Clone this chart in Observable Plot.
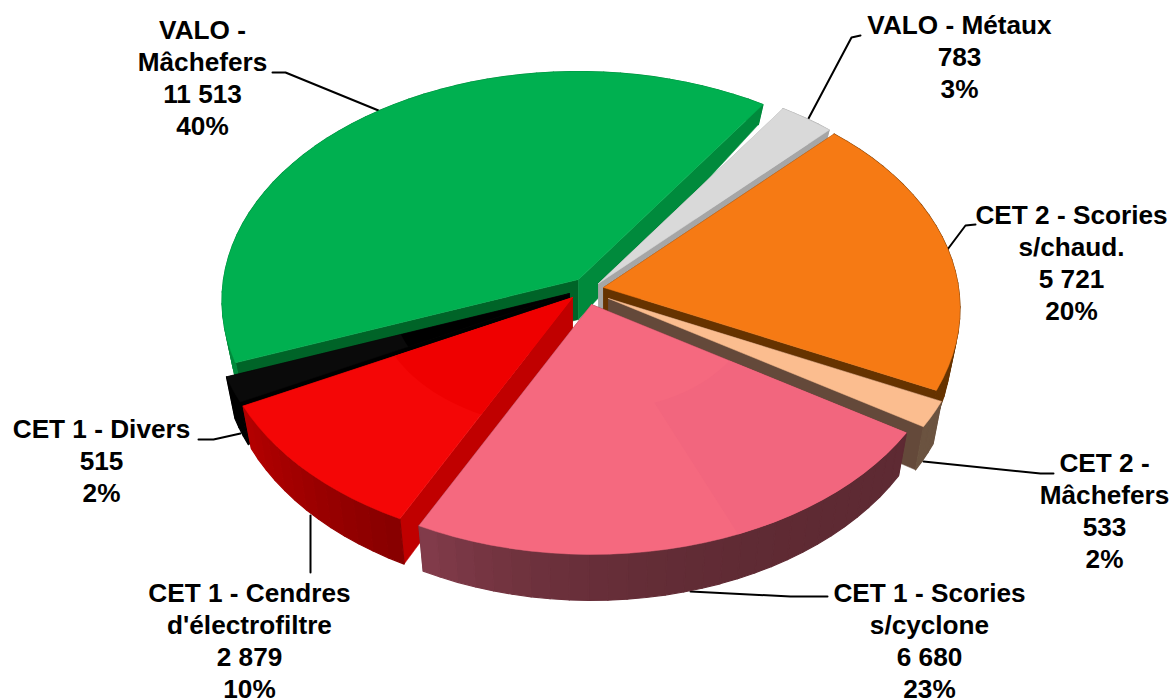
<!DOCTYPE html>
<html><head><meta charset="utf-8">
<script src="https://cdn.jsdelivr.net/npm/d3@7"></script>
<script src="https://cdn.jsdelivr.net/npm/@observablehq/plot@0.6"></script>
<style>html,body{margin:0;padding:0;background:#fff;overflow:hidden}svg{display:block}</style>
</head><body><div id="chart"></div>
<script>
// Data, clockwise from the lower left of the pie
const names = [["VALO -","Mâchefers"],["VALO - Métaux"],["CET 2 - Scories","s/chaud."],["CET 2 -","Mâchefers"],["CET 1 - Scories","s/cyclone"],["CET 1 - Cendres","d'électrofiltre"],["CET 1 - Divers"]];
const values = [11513, 783, 5721, 533, 6680, 2879, 515];
const topColors = ["#00b050","#d9d9d9","#f67a14","#fbbd8f","#f5697f","#f40606","#0a0a0a"];
const rimLeft = ["#008a3c","#a6a6a6","#663300","#6b5340","#833c4b","#b40000","#000000"];
const rimRight = ["#008a3c","#a6a6a6","#663300","#6b5340","#5e2a33","#860000","#000000"];
const rimEase = [1,1,1,1,3.5,1,1];
const startWall = ["#006428","#a6a6a6","#663300","#64493a","#5e2a33","#c00000","#000000"];
const endWall = ["#008a3c","#a6a6a6","#663300","#64493a","#5e2a33","#c00000","#000000"];
// Exploded position of each slice's apex
const apexX = [578,598,603,608,591,572,569];
const apexY = [279,283,287,298,304,297,293];
// Faint facets on the top faces: slice, angle fractions, radius fractions, colour
const facets = [
  {i:5, f0:0, f1:1, r0:0, r1:0.55, color:"#ef0000"},
  {i:4, f0:0, f1:0.42, r0:0.45, r1:1, color:"#f2667e"},
  {i:6, f0:0, f1:1, r0:0, r1:0.5, color:"#000000"}
];
// Label centres and leader lines
const labelX = [202,959,1071,1104,929,249,101];
const labelY = [30,25,215,463,593,593,429];
const leaders = [
  [[272,72],[285,72],[378,110]],
  [[860,35],[851,37],[808,118]],
  [[975,224],[965,225],[947,249]],
  [[1053,473],[1040,473],[923,461]],
  [[827,596],[790,596],[690,591]],
  [[310,572],[310,515]],
  [[198,439],[213,439],[240,433]]
];
// Projection of the tilted disc
const rx = 355, ry = 227, persp = 0.0917, startDeg = -110.8;
const bottomScaleX = 0.975;
const depth = d3.scaleLinear([-175,0,250],[20,40,46]).clamp(true);
const rad = d => d * Math.PI / 180;
const total = d3.sum(values);
const num = d3.formatLocale({thousands:"\u00a0",grouping:[3],decimal:","}).format(",d");
const pct = d3.format(".0%");
const arcs = d3.pie().sort(null).value(d => d).startAngle(rad(startDeg)).endAngle(rad(startDeg + 360))(values);

function proj(a, r = 1) {
  const s = 1 / (1 + persp * r * Math.cos(a));
  return [rx * r * Math.sin(a) * s, -ry * r * Math.cos(a) * s];
}
function P(i, a, r = 1) { const [X, Y] = proj(a, r); return {x: apexX[i] + X, y: apexY[i] + Y}; }
function B(i, a) { const [X, Y] = proj(a); return {x: apexX[i] + X * bottomScaleX, y: apexY[i] + Y + depth(Y)}; }
const apexT = i => ({x: apexX[i], y: apexY[i]});
const apexB = i => ({x: apexX[i], y: apexY[i] + depth(0)});
const poly = (pts, color, sw = 0.5) => Plot.line([...pts, pts[0]], {x: "x", y: "y", fill: color, stroke: color, strokeWidth: sw, curve: "linear"});
const sweep = (a0, a1) => { const n = Math.max(2, Math.ceil((a1 - a0) / rad(3))); return d3.range(n + 1).map(k => a0 + (a1 - a0) * k / n); };

// Draw far slices first, near slices last
const order = [0,1,2,3,6,5,4];
const ordered = order.flatMap(i => {
  const {startAngle: a0, endAngle: a1} = arcs[i];
  const angles = sweep(a0, a1);
  const n = angles.length - 1;
  const mix = d3.interpolateRgb(rimRight[i], rimLeft[i]);
  const out = [
    poly([apexT(i), P(i, a0), B(i, a0), apexB(i)], startWall[i]),
    poly([apexT(i), P(i, a1), B(i, a1), apexB(i)], endWall[i])
  ];
  for (let k = 0; k < n; k++) out.push(poly([P(i, angles[k]), P(i, angles[k+1]), B(i, angles[k+1]), B(i, angles[k])], mix(Math.pow((k + .5) / n, rimEase[i])), 1.2));
  out.push(poly([apexT(i), ...angles.map(a => P(i, a))], topColors[i]));
  for (const f of facets.filter(f => f.i === i)) {
    const b0 = a0 + (a1 - a0) * f.f0, b1 = a0 + (a1 - a0) * f.f1;
    const arc = sweep(b0, b1);
    const outer = arc.map(a => P(i, a, f.r1));
    const inner = f.r0 === 0 ? [apexT(i)] : arc.slice().reverse().map(a => P(i, a, f.r0));
    out.push(Plot.line([...outer, ...inner, outer[0]], {x: "x", y: "y", fill: f.color, curve: "linear", strokeWidth: 0}));
  }
  return out;
});

const labels = names.map((n, i) => ({
  x: labelX[i], y: labelY[i],
  text: [...n, num(values[i]), pct(values[i] / total)].join("\n")
}));
const leaderRows = leaders.flatMap((l, id) => l.map(([x, y]) => ({id, x, y})));

const chart = Plot.plot({
  width: 1172, height: 699, margin: 0,
  x: {domain: [0, 1172], axis: null},
  y: {domain: [699, 0], axis: null},
  marks: [
    Plot.line(leaderRows, {x: "x", y: "y", z: "id", stroke: "#000", strokeWidth: 2, curve: "linear"}),
    ...ordered,
    Plot.text(labels, {x: "x", y: "y", text: "text", lineAnchor: "top", dy: -14.5, lineHeight: 1.225,
      textAnchor: "middle", fontFamily: "Liberation Sans", fontWeight: 700, fontSize: 26.2, fill: "#000"})
  ]
});
document.getElementById("chart").append(chart);
</script></body></html>
